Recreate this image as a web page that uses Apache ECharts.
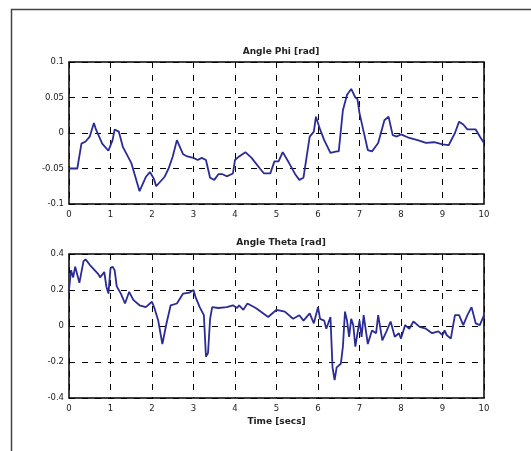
<!DOCTYPE html>
<html>
<head>
<meta charset="utf-8">
<script src="https://cdn.jsdelivr.net/npm/echarts@6/dist/echarts.min.js"></script>
<style>html,body{margin:0;padding:0;background:#fff}#c{width:531px;height:451px}</style>
</head>
<body>
<div id="c"></div>
<script>
var phiTime = [0,0.2,0.3,0.4,0.5,0.6,0.65,0.8,0.95,1.05,1.1,1.2,1.3,1.5,1.7,1.85,1.95,2.05,2.1,2.3,2.4,2.5,2.6,2.75,2.85,3.0,3.1,3.2,3.3,3.4,3.5,3.6,3.7,3.8,3.95,4.0,4.1,4.25,4.4,4.6,4.7,4.85,4.95,5.05,5.15,5.3,5.45,5.55,5.65,5.8,5.9,5.95,6.05,6.15,6.3,6.45,6.5,6.6,6.7,6.8,6.9,6.95,7.0,7.1,7.2,7.3,7.45,7.6,7.7,7.8,7.9,8.0,8.2,8.4,8.6,8.8,9.0,9.15,9.3,9.4,9.5,9.6,9.8,9.9,10];
var phiValues = [-0.05,-0.05,-0.015,-0.012,-0.005,0.014,0.005,-0.015,-0.025,-0.01,0.005,0.002,-0.02,-0.042,-0.082,-0.062,-0.055,-0.065,-0.075,-0.062,-0.05,-0.033,-0.01,-0.03,-0.033,-0.035,-0.038,-0.035,-0.038,-0.063,-0.066,-0.058,-0.058,-0.061,-0.057,-0.038,-0.033,-0.027,-0.035,-0.05,-0.057,-0.057,-0.04,-0.04,-0.027,-0.042,-0.058,-0.066,-0.063,-0.005,0.002,0.023,0.005,-0.01,-0.028,-0.026,-0.026,0.032,0.054,0.062,0.05,0.048,0.028,0.002,-0.024,-0.026,-0.014,0.018,0.023,-0.003,-0.005,-0.002,-0.007,-0.01,-0.014,-0.013,-0.016,-0.017,0,0.016,0.012,0.005,0.005,-0.005,-0.014];
var thetaTime = [0,0.05,0.1,0.15,0.25,0.35,0.4,0.5,0.7,0.75,0.85,0.9,0.95,1.0,1.05,1.1,1.15,1.25,1.35,1.45,1.55,1.7,1.85,2.0,2.05,2.15,2.25,2.35,2.45,2.6,2.75,2.9,3.0,3.05,3.15,3.25,3.3,3.35,3.4,3.45,3.6,3.8,3.95,4.05,4.1,4.2,4.3,4.5,4.8,5.0,5.2,5.4,5.55,5.65,5.8,5.9,6.0,6.05,6.15,6.2,6.3,6.35,6.4,6.45,6.55,6.6,6.65,6.7,6.75,6.8,6.85,6.9,7.0,7.05,7.1,7.2,7.3,7.4,7.45,7.55,7.65,7.75,7.85,7.95,8.0,8.1,8.2,8.3,8.45,8.6,8.75,8.9,9.0,9.05,9.1,9.2,9.3,9.4,9.5,9.6,9.7,9.8,9.9,10];
var thetaValues = [0.2,0.31,0.27,0.33,0.24,0.36,0.37,0.34,0.29,0.27,0.3,0.22,0.18,0.32,0.33,0.31,0.22,0.18,0.125,0.19,0.145,0.115,0.105,0.135,0.105,0.03,-0.1,0.015,0.115,0.125,0.18,0.185,0.2,0.16,0.105,0.06,-0.17,-0.15,0.04,0.105,0.1,0.105,0.115,0.1,0.115,0.09,0.125,0.1,0.05,0.09,0.08,0.04,0.06,0.03,0.07,0.015,0.105,0.04,0.03,-0.015,0.05,-0.23,-0.3,-0.23,-0.21,-0.115,0.08,0.03,-0.06,0.04,0.005,-0.115,0.03,-0.06,0.06,-0.1,-0.025,-0.04,0.06,-0.08,-0.03,0.025,-0.06,-0.04,-0.07,0.005,-0.015,0.025,-0.005,-0.015,-0.04,-0.03,-0.05,-0.025,-0.05,-0.07,0.06,0.06,0.005,0.06,0.105,0.015,0.005,0.06];
var xTicks = [0,1,2,3,4,5,6,7,8,9,10];
var titles = ['Angle Phi [rad]', 'Angle Theta [rad]'];
var xName = 'Time [secs]';

function pairs(t, v) { return t.map(function (x, i) { return [x, v[i]]; }); }

var font = 'DejaVu Sans, sans-serif';
var split = { show: true, lineStyle: { color: '#000', width: 1, type: [6, 7] } };
function xAx(gi, name) {
  return {
    type: 'value', gridIndex: gi, min: 0, max: 10, interval: 1,
    axisLine: { show: false },
    axisTick: { show: true, inside: true, length: 4, lineStyle: { color: '#000' } },
    axisLabel: { fontSize: 8.5, color: '#222', fontFamily: font, margin: 6,
      formatter: function (v) { return xTicks.indexOf(v) >= 0 ? String(v) : ''; } },
    splitLine: split,
    name: name || '', nameLocation: 'middle', nameGap: 19,
    nameTextStyle: { fontSize: 9, fontWeight: 'bold', color: '#222', fontFamily: font }
  };
}
function yAx(gi, min, max, interval) {
  return {
    type: 'value', gridIndex: gi, min: min, max: max, interval: interval,
    axisLine: { show: false },
    axisTick: { show: true, inside: true, length: 4, lineStyle: { color: '#000' } },
    axisLabel: { fontSize: 8.5, color: '#222', fontFamily: font, margin: 5,
      formatter: function (v) { return String(Math.round(v * 1000) / 1000); } },
    splitLine: split
  };
}

var chart = echarts.init(document.getElementById('c'), null, { renderer: 'canvas' });
chart.setOption({
  backgroundColor: '#fff',
  animation: false,
  graphic: [{ type: 'rect', left: 9, top: 7, shape: { width: 700, height: 600 },
    style: { fill: 'none', stroke: '#444', lineWidth: 1.5 }, silent: true, z: -1 }],
  title: [
    { text: titles[0], left: 276, top: 42, textAlign: 'center',
      textStyle: { fontSize: 9, fontWeight: 'bold', color: '#222', fontFamily: font } },
    { text: titles[1], left: 276, top: 233, textAlign: 'center',
      textStyle: { fontSize: 9, fontWeight: 'bold', color: '#222', fontFamily: font } }
  ],
  grid: [
    { left: 69, right: 47, top: 62, height: 142, show: true, borderColor: '#000', borderWidth: 1.5, backgroundColor: 'transparent' },
    { left: 69, right: 47, top: 254, height: 144, show: true, borderColor: '#000', borderWidth: 1.5, backgroundColor: 'transparent' }
  ],
  xAxis: [xAx(0), xAx(1, xName)],
  yAxis: [yAx(0, -0.1, 0.1, 0.05), yAx(1, -0.4, 0.4, 0.2)],
  series: [
    { type: 'line', xAxisIndex: 0, yAxisIndex: 0, data: pairs(phiTime, phiValues),
      showSymbol: false, lineStyle: { color: '#2b2b96', width: 1.8 } },
    { type: 'line', xAxisIndex: 1, yAxisIndex: 1, data: pairs(thetaTime, thetaValues),
      showSymbol: false, lineStyle: { color: '#2b2b96', width: 1.8 } }
  ]
});
</script>
</body>
</html>
